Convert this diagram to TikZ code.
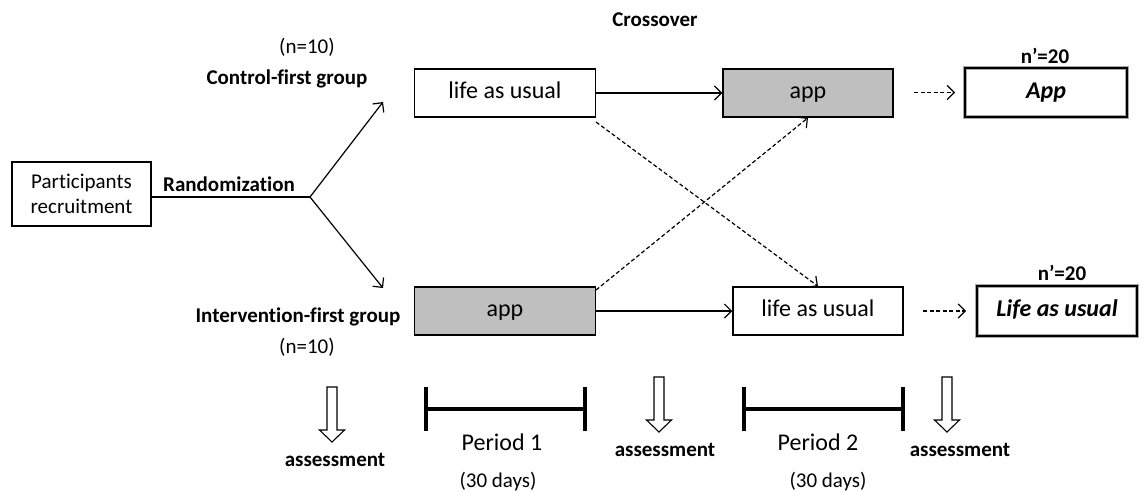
\documentclass[tikz,border=0pt]{standalone}
\usepackage{fontspec}
\setmainfont{Carlito}[Ligatures=NoCommon]
\usetikzlibrary{arrows.meta}
\begin{document}
\begin{tikzpicture}[x=1pt,y=-1pt,
  reg/.style={font=\fontsize{24}{28}\selectfont},
  lab/.style={font=\fontsize{21}{25}\selectfont\bfseries, inner sep=0pt},
  small/.style={font=\fontsize{21}{25}\selectfont, inner sep=0pt},
  box/.style={draw, line width=1.5pt, inner sep=0pt, reg, text height=16pt, text depth=5pt},
  graybox/.style={box, fill=black!25},
  finalbox/.style={draw=black, line width=2.2pt, inner sep=0pt,
     font=\fontsize{24}{28}\selectfont\bfseries\itshape, text height=16pt, text depth=5pt,
     preaction={draw=black!35, line width=4.5pt}},
  conn/.style={line width=1.2pt, -{Straight Barb[length=7pt,width=14pt,line width=1.2pt]}},
  dconn/.style={conn, dash pattern=on 4pt off 2.5pt},
  bar/.style={line width=3.5pt},
  assessarrow/.pic={\draw[line width=1.1pt, fill=white] (-5,0) -- (5,0) -- (5,43) -- (12.5,43) -- (0,55) -- (-12.5,43) -- (-5,43) -- cycle;}
]
\useasboundingbox (0,0) rectangle (1144,491);

% boxes
\node[draw, line width=1.5pt, inner sep=0pt, minimum width=139pt, minimum height=64pt, align=center, font=\fontsize{21}{25}\selectfont] (part) at (81.5,194) {Participants\\recruitment};
\node[box, minimum width=181pt, minimum height=48pt] (lu1) at (505,93) {life as usual};
\node[graybox, minimum width=170pt, minimum height=48pt] (app2) at (808,93) {app};
\node[graybox, minimum width=181pt, minimum height=48pt] (app1) at (505,311) {app};
\node[box, minimum width=170pt, minimum height=48pt] (lu2) at (818,311) {life as usual};
\node[finalbox, minimum width=162pt, minimum height=49pt] (fapp) at (1046,92.5) {App};
\node[finalbox, minimum width=160pt, minimum height=50pt] (flu) at (1057,311) {Life as usual};

% labels
\node[lab] (cross) at (655,20) {Crossover};
\node[small] (n1) at (307,47) {(n=10)};
\node[lab] (cfg) at (287,79) {Control-first group};
\node[lab] (ifg) at (298,317) {Intervention-first group};
\node[small] (n2) at (307,347) {(n=10)};
\node[lab] (rand) at (229,184) {Randomization};
\node[lab] (np1) at (1045,56) {n’=20};
\node[lab] (np2) at (1062,273) {n’=20};

% randomization branch
\coordinate (br) at (310,197);
\coordinate (up) at (383,102);
\coordinate (dn) at (383,288);
\draw[line width=1.2pt] (part.east |- br) -- (br);
\draw[conn] (br) -- (up);
\draw[conn] (br) -- (dn);

% flow
\draw[conn] (lu1.east) -- (app2.west);
\draw[conn] (app1.east) -- (lu2.west);
\coordinate (d1s) at (596,122);
\coordinate (d2s) at (596,290);
\draw[dconn] (d1s) -- (lu2.north);
\draw[dconn] (d2s) -- (app2.south);
\coordinate (e1s) at (914,92.5);
\coordinate (e2s) at (923,311);
\draw[dconn] (e1s) -- (fapp.west -| 955,0);
\draw[dconn] (e2s) -- (flu.west -| 966,0);

% timeline
\pic at (332,387) {assessarrow};
\pic at (659,377) {assessarrow};
\pic at (947,377) {assessarrow};
\node[lab] (as1) at (335,460) {assessment};
\node[lab] (as2) at (665,450) {assessment};
\node[lab] (as3) at (960,450) {assessment};

\draw[bar] (426,387) -- (426,431);
\draw[bar] (585,387) -- (585,431);
\draw[bar] (426,409) -- (585,409);
\draw[bar] (744,387) -- (744,431);
\draw[bar] (903,387) -- (903,431);
\draw[bar] (744,409) -- (903,409);
\node[reg, inner sep=0pt] (p1) at (502,442) {Period 1};
\node[small] (d1) at (498,482) {(30 days)};
\node[reg, inner sep=0pt] (p2) at (818,442) {Period 2};
\node[small] (d2) at (828,482) {(30 days)};
\end{tikzpicture}
\end{document}
